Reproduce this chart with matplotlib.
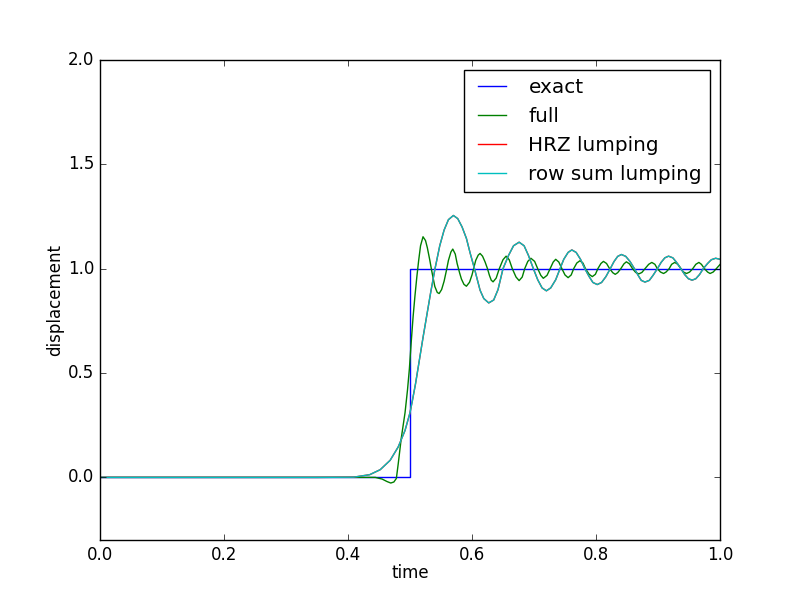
import matplotlib
matplotlib.use("Agg")
import matplotlib.pyplot as plt

plt.style.use("classic")

# exact step response
exact_t = [0.0, 0.5, 0.5, 1.0]
exact_v = [0.0, 0.0, 1.0, 1.0]

# consistent (full) mass matrix
full_t = [0.0, 0.40, 0.444, 0.455, 0.463, 0.469, 0.474, 0.478, 0.481, 0.486,
          0.492, 0.496, 0.499, 0.502, 0.505, 0.508, 0.511, 0.514, 0.517, 0.521,
          0.525, 0.528, 0.532, 0.535, 0.540, 0.544, 0.547, 0.551, 0.555, 0.559,
          0.562, 0.566, 0.569, 0.573, 0.576, 0.580, 0.583, 0.587, 0.591, 0.596,
          0.600, 0.603, 0.606, 0.610, 0.613, 0.617, 0.621, 0.625, 0.628, 0.631,
          0.634, 0.639, 0.644, 0.650, 0.655, 0.660, 0.665, 0.671, 0.676,
          0.681, 0.685, 0.690, 0.695, 0.701, 0.706, 0.711, 0.715, 0.721, 0.726,
          0.731, 0.735, 0.740, 0.745, 0.750, 0.755, 0.760, 0.764, 0.769, 0.774,
          0.779, 0.783, 0.789, 0.794, 0.799, 0.803, 0.808, 0.812, 0.817, 0.822,
          0.827, 0.831, 0.835, 0.840, 0.845, 0.849, 0.854, 0.859, 0.864, 0.869,
          0.874, 0.879, 0.885, 0.890, 0.895, 0.899, 0.904, 0.909, 0.913, 0.918,
          0.922, 0.927, 0.932, 0.937, 0.941, 0.946, 0.951, 0.956, 0.961, 0.966,
          0.970, 0.975, 0.980, 0.984, 0.989, 0.994, 1.0]
full_v = [0.0, 0.0, 0.0, -0.008, -0.02, -0.027, -0.022, -0.005, 0.065, 0.19,
          0.31, 0.42, 0.52, 0.65, 0.77, 0.87, 0.96, 1.04, 1.11, 1.153,
          1.135, 1.10, 1.04, 0.99, 0.915, 0.886, 0.881, 0.900, 0.94, 0.995,
          1.04, 1.08, 1.094, 1.07, 1.025, 0.98, 0.95, 0.925, 0.916, 0.935,
          0.97, 1.005, 1.04, 1.065, 1.073, 1.06, 1.033, 1.0, 0.969, 0.945,
          0.937, 0.955, 1.0, 1.043, 1.06, 1.043, 1.0, 0.96, 0.943,
          0.96, 1.0, 1.035, 1.05, 1.035, 1.0, 0.968, 0.954, 0.968, 1.0,
          1.032, 1.045, 1.032, 1.0, 0.97, 0.957, 0.97, 1.0, 1.027, 1.038,
          1.027, 1.0, 0.973, 0.962, 0.973, 1.0, 1.025, 1.035, 1.025, 1.0,
          0.981, 0.973, 0.981, 1.0, 1.023, 1.033, 1.023, 1.0, 0.982, 0.975,
          0.982, 1.0, 1.021, 1.03, 1.021, 1.0, 0.984, 0.977, 0.984, 1.0,
          1.021, 1.03, 1.021, 1.0, 0.984, 0.977, 0.984, 1.0, 1.021, 1.03,
          1.021, 1.0, 0.984, 0.977, 0.984, 1.0, 1.02]

# row sum lumping
rowsum_t = [0.0, 0.35, 0.409, 0.435, 0.452, 0.468, 0.481, 0.492, 0.500, 0.504,
            0.509, 0.515, 0.521, 0.527, 0.533, 0.540, 0.548, 0.555, 0.562, 0.570,
            0.577, 0.584, 0.591, 0.597, 0.604, 0.613, 0.619, 0.627, 0.635, 0.642,
            0.650, 0.659, 0.667, 0.676, 0.684, 0.691, 0.699, 0.706, 0.713, 0.720,
            0.727, 0.735, 0.742, 0.748, 0.755, 0.761, 0.768, 0.775, 0.782, 0.789,
            0.795, 0.802, 0.809, 0.816, 0.823, 0.829, 0.835, 0.841, 0.848, 0.855,
            0.862, 0.868, 0.873, 0.879, 0.886, 0.892, 0.899, 0.905, 0.911, 0.917,
            0.924, 0.930, 0.937, 0.943, 0.949, 0.955, 0.961, 0.967, 0.973, 0.980,
            0.986, 0.993, 1.0]
rowsum_v = [0.0, 0.0, 0.001, 0.013, 0.037, 0.082, 0.146, 0.225, 0.31, 0.37,
            0.45, 0.56, 0.67, 0.775, 0.88, 0.995, 1.11, 1.185, 1.235, 1.255,
            1.24, 1.20, 1.145, 1.075, 1.0, 0.897, 0.857, 0.836, 0.850, 0.900,
            1.0, 1.064, 1.11, 1.127, 1.11, 1.064, 1.0, 0.947, 0.908, 0.894,
            0.908, 0.947, 1.0, 1.045, 1.078, 1.09, 1.078, 1.045, 1.0, 0.962,
            0.934, 0.924, 0.934, 0.962, 1.0, 1.034, 1.059, 1.068, 1.059, 1.034,
            1.0, 0.968, 0.944, 0.936, 0.944, 0.968, 1.0, 1.03, 1.052, 1.06,
            1.052, 1.03, 1.0, 0.972, 0.952, 0.945, 0.952, 0.972, 1.0, 1.025,
            1.043, 1.05, 1.045]

# HRZ lumping coincides with row sum lumping
hrz_t = list(rowsum_t)
hrz_v = list(rowsum_v)

fig = plt.figure(figsize=(8, 6))
ax = fig.add_subplot(111)
ax.plot(exact_t, exact_v, "b", label="exact")
ax.plot(full_t, full_v, "g", label="full")
ax.plot(hrz_t, hrz_v, "r", label="HRZ lumping")
ax.plot(rowsum_t, rowsum_v, "c", label="row sum lumping")
ax.set_xlim(0.0, 1.0)
ax.set_ylim(-0.3, 2.0)
ax.set_xlabel("time", labelpad=0)
ax.set_ylabel("displacement", labelpad=3)
ax.legend(loc="upper right")
fig.savefig("out.png", dpi=100, facecolor="white")
